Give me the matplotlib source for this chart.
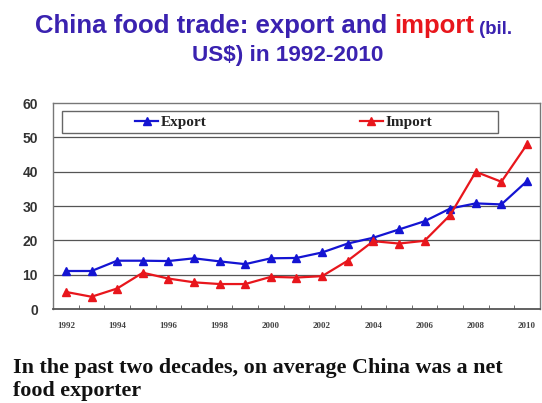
import matplotlib
matplotlib.use("Agg")
import matplotlib.pyplot as plt
from matplotlib.patches import Rectangle
import numpy as np

years = list(range(1992, 2011))
export = [11.1, 11.1, 14.1, 14.1, 14.0, 14.8, 13.9, 13.1, 14.8, 14.9,
          16.5, 19.1, 20.8, 23.2, 25.6, 29.3, 30.8, 30.5, 37.3]
imports = [5.0, 3.6, 6.0, 10.6, 8.9, 7.8, 7.3, 7.3, 9.4, 9.2,
           9.6, 14.1, 19.8, 19.1, 19.9, 27.4, 40.0, 37.1, 48.0]
yticks = [0, 10, 20, 30, 40, 50, 60]

BLUE_T = "#3a22b0"
BLUE = "#1414d2"
RED = "#e8161c"

fig = plt.figure(figsize=(5.42, 4.03), dpi=100)
ax = fig.add_axes([0.098, 0.233, 0.898, 0.511])

x = np.arange(len(years))
ax.plot(x, export, color=BLUE, lw=1.6, marker="^", ms=6, label="Export", zorder=3)
ax.plot(x, imports, color=RED, lw=1.6, marker="^", ms=6, label="Import", zorder=3)

ax.set_xlim(-0.5, len(years) - 0.5)
ax.set_ylim(0, 60)
ax.set_yticks(yticks)
ax.set_yticklabels([str(v) for v in yticks], fontsize=10, fontweight="bold",
                   color="#333333", family="Liberation Sans")
ax.tick_params(axis="y", length=0, pad=11)
ax.set_xticks(x[::2])
ax.set_xticklabels([str(y) for y in years[::2]], fontsize=6.5, fontweight="bold",
                   family="Liberation Serif", color="#444444")
ax.set_xticks(np.arange(len(years) + 1) - 0.5, minor=True)
ax.tick_params(axis="x", which="major", length=0, pad=9)
ax.tick_params(axis="x", which="minor", direction="in", length=3, color="#555555")
for v in yticks[1:-1]:
    ax.axhline(v, color="#555555", lw=0.9, zorder=0)
for s in ax.spines.values():
    s.set_color("#777777")
    s.set_linewidth(1.0)
ax.spines["bottom"].set_color("#555555")
ax.spines["bottom"].set_linewidth(1.3)

# legend box
ax.add_patch(Rectangle((0.0185, 0.854), 0.896, 0.107, transform=ax.transAxes,
                       facecolor="white", edgecolor="#666666", lw=1.0, zorder=4))
leg = ax.legend(loc="center", bbox_to_anchor=(0.474, 0.9075),
                ncol=2, frameon=False,
                prop={"family": "Liberation Serif", "weight": "bold", "size": 11},
                handlelength=1.5, handletextpad=0.2, columnspacing=10.0,
                bbox_transform=ax.transAxes)
leg.set_zorder(5)
for t in leg.get_texts():
    t.set_color("#222222")

# Title (multi-coloured)
t1 = fig.text(0.064, 0.918, "China food trade: export and ", color=BLUE_T,
              fontsize=18.5, fontweight="bold", family="Liberation Sans",
              va="baseline", ha="left")
t2 = ax.annotate("import", xycoords=t1, xy=(1, 0), va="bottom", ha="left",
                 color=RED, fontsize=18.5, fontweight="bold", family="Liberation Sans",
                 annotation_clip=False)
t3 = ax.annotate(" (bil.", xycoords=t2, xy=(1, 0), va="bottom", ha="left",
                 color=BLUE_T, fontsize=13.4, fontweight="bold", family="Liberation Sans",
                 annotation_clip=False)
fig.text(0.53, 0.849, "US\\$) in 1992-2010", color=BLUE_T, fontsize=16.2,
         fontweight="bold", family="Liberation Sans", va="baseline", ha="center")

fig.text(0.024, 0.074, "In the past two decades, on average China was a net",
         fontsize=15.8, fontweight="bold", family="Liberation Serif",
         color="#111111", va="baseline", ha="left")
fig.text(0.024, 0.018, "food exporter",
         fontsize=15.8, fontweight="bold", family="Liberation Serif",
         color="#111111", va="baseline", ha="left")

fig.savefig("out.png", dpi=100)
